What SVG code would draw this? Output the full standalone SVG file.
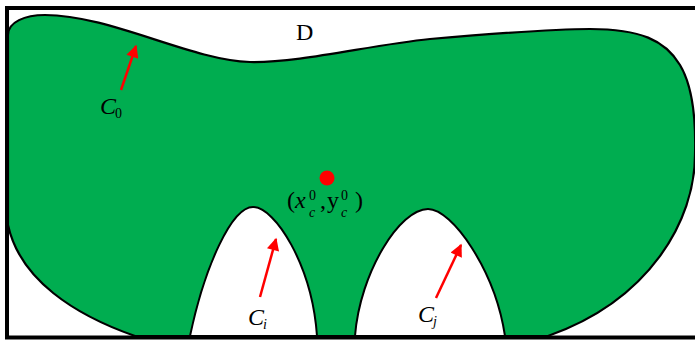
<svg xmlns="http://www.w3.org/2000/svg" width="695" height="341" viewBox="0 0 695 341">
<style>
.m{font-family:"Liberation Serif","DejaVu Serif",serif;fill:#000;font-size:24px}
.i{font-style:italic}
.s{font-size:14px}
.arr{stroke:#ff0000;stroke-width:2.5;fill:none;marker-end:url(#ah)}
.hole{fill:#fff;stroke:#000;stroke-width:2}
</style>
<defs>
<marker id="ah" viewBox="0 0 10 10" refX="9" refY="5" markerWidth="6" markerHeight="5" markerUnits="strokeWidth" orient="auto">
<path d="M0,0 L10,5 L0,10 Z" fill="#ff0000"/>
</marker>
</defs>
<rect x="0" y="0" width="695" height="341" fill="#fff"/>
<g id="domain">
<rect x="7" y="8" width="700" height="329.5" fill="#fff" stroke="#000" stroke-width="4"/>
<text class="m" x="296" y="40" font-size="20">D</text>
</g>
<g id="body">
<path d="M 8,35 C 8,22 25,15 45,15 C 110,15 190,60 250,62 C 300,63 370,45 430,39 C 500,33 560,29 590,29 C 640,29 665,40 680,65 C 692,85 696,120 695,155 C 695,220 650,300 548,336 L 135,336 C 75,315 20,280 8,225 Z" fill="#00ad50" stroke="#000" stroke-width="2.2"/>
</g>
<g id="hole-i">
<path class="hole" d="M 190,336 C 205,265 232,207 253,207 C 275,207 312,265 317,336 Z"/>
</g>
<g id="hole-j">
<path class="hole" d="M 355,336 C 360,272 400,209 428,209 C 452,209 495,270 505,336 Z"/>
</g>
<g id="centroid">
<circle cx="327" cy="178" r="7.5" fill="#ff0000"/>
<text class="m" y="208"><tspan x="287">(</tspan><tspan x="295" class="i">x</tspan><tspan x="309" y="200" class="s">0</tspan><tspan x="309" y="217" class="s i">c</tspan><tspan x="320" y="208">,</tspan><tspan x="327">y</tspan><tspan x="341" y="200" class="s">0</tspan><tspan x="341" y="217" class="s i">c</tspan><tspan x="355" y="208">)</tspan></text>
</g>
<g id="connectors">
<line class="arr" x1="121" y1="90" x2="136" y2="46"/>
<line class="arr" x1="260" y1="297" x2="276" y2="239"/>
<line class="arr" x1="436" y1="298" x2="461" y2="245"/>
</g>
<g id="labels">
<text class="m i" x="100" y="114" font-size="25">C<tspan x="115" y="118" class="s" font-size="16" font-style="normal">0</tspan></text>
<text class="m i" x="248" y="325" font-size="25">C<tspan x="263" y="329" class="s" font-size="16">i</tspan></text>
<text class="m i" x="418" y="322" font-size="25">C<tspan x="433" y="326" class="s" font-size="16">j</tspan></text>
</g>
</svg>
